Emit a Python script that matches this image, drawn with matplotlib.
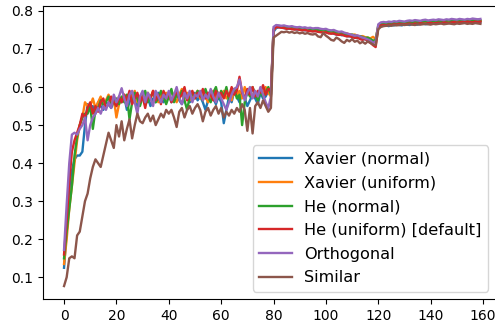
import matplotlib
matplotlib.use("Agg")
import matplotlib.pyplot as plt

labels = ["Xavier (normal)", "Xavier (uniform)", "He (normal)",
          "He (uniform) [default]", "Orthogonal", "Similar"]
colors = ["#1f77b4", "#ff7f0e", "#2ca02c", "#d62728", "#9467bd", "#8c564b"]

xavier_normal = [
    0.125, 0.22, 0.31, 0.38, 0.41, 0.42, 0.42, 0.43, 0.50, 0.555, 0.54, 0.55, 0.53, 0.56, 0.55, 0.54, 0.56, 0.555, 0.545, 0.56,
    0.55, 0.57, 0.56, 0.575, 0.54, 0.56, 0.58, 0.565, 0.55, 0.57, 0.58, 0.56, 0.575, 0.55, 0.57, 0.56, 0.585, 0.57, 0.56, 0.575,
    0.58, 0.56, 0.57, 0.59, 0.565, 0.555, 0.575, 0.58, 0.56, 0.57, 0.585, 0.565, 0.575, 0.56, 0.54, 0.565, 0.58, 0.57, 0.555, 0.575,
    0.56, 0.505, 0.54, 0.575, 0.56, 0.59, 0.575, 0.56, 0.585, 0.57, 0.55, 0.565, 0.58, 0.57, 0.555, 0.585, 0.57, 0.575, 0.59, 0.58,
    0.745, 0.755, 0.757, 0.756, 0.755, 0.754, 0.753, 0.754, 0.752, 0.751, 0.752, 0.75, 0.749, 0.75, 0.748, 0.747, 0.748, 0.746, 0.745, 0.746,
    0.744, 0.742, 0.743, 0.74, 0.738, 0.739, 0.736, 0.737, 0.734, 0.733, 0.735, 0.731, 0.729, 0.73, 0.727, 0.725, 0.726, 0.722, 0.718, 0.72,
    0.755, 0.76, 0.761, 0.762, 0.76, 0.763, 0.762, 0.764, 0.763, 0.762, 0.765, 0.764, 0.763, 0.766, 0.765, 0.764, 0.766, 0.767, 0.765, 0.766,
    0.768, 0.767, 0.766, 0.768, 0.769, 0.767, 0.768, 0.77, 0.769, 0.768, 0.77, 0.771, 0.769, 0.77, 0.771, 0.772, 0.77, 0.771, 0.772, 0.771,
]

xavier_uniform = [
    0.135, 0.20, 0.28, 0.34, 0.40, 0.46, 0.50, 0.52, 0.56, 0.55, 0.55, 0.57, 0.545, 0.56, 0.575, 0.55, 0.565, 0.58, 0.56, 0.57,
    0.52, 0.555, 0.57, 0.58, 0.56, 0.585, 0.57, 0.59, 0.56, 0.575, 0.58, 0.565, 0.585, 0.57, 0.59, 0.575, 0.56, 0.58, 0.57, 0.585,
    0.57, 0.59, 0.575, 0.56, 0.58, 0.595, 0.57, 0.585, 0.565, 0.58, 0.575, 0.59, 0.57, 0.585, 0.575, 0.56, 0.58, 0.59, 0.57, 0.585,
    0.575, 0.59, 0.57, 0.58, 0.565, 0.595, 0.58, 0.59, 0.57, 0.6, 0.58, 0.59, 0.575, 0.585, 0.57, 0.595, 0.58, 0.6, 0.585, 0.575,
    0.75, 0.758, 0.759, 0.757, 0.756, 0.756, 0.755, 0.754, 0.755, 0.753, 0.752, 0.753, 0.751, 0.75, 0.751, 0.749, 0.75, 0.748, 0.747, 0.748,
    0.746, 0.745, 0.746, 0.744, 0.742, 0.743, 0.741, 0.74, 0.741, 0.738, 0.737, 0.738, 0.735, 0.733, 0.734, 0.731, 0.73, 0.728, 0.732, 0.726,
    0.76, 0.764, 0.765, 0.764, 0.766, 0.765, 0.767, 0.766, 0.765, 0.767, 0.768, 0.766, 0.768, 0.767, 0.769, 0.768, 0.767, 0.769, 0.77, 0.768,
    0.77, 0.769, 0.771, 0.77, 0.769, 0.771, 0.772, 0.77, 0.771, 0.772, 0.771, 0.773, 0.772, 0.771, 0.773, 0.772, 0.774, 0.773, 0.772, 0.774,
]

he_normal = [
    0.15, 0.22, 0.28, 0.34, 0.42, 0.47, 0.50, 0.52, 0.53, 0.53, 0.55, 0.49, 0.54, 0.54, 0.565, 0.55, 0.56, 0.575, 0.55, 0.565,
    0.57, 0.555, 0.575, 0.56, 0.58, 0.515, 0.56, 0.585, 0.57, 0.55, 0.575, 0.59, 0.56, 0.575, 0.585, 0.56, 0.57, 0.59, 0.575, 0.555,
    0.575, 0.595, 0.56, 0.58, 0.57, 0.59, 0.565, 0.54, 0.575, 0.585, 0.57, 0.59, 0.58, 0.565, 0.595, 0.575, 0.56, 0.585, 0.6, 0.57,
    0.59, 0.575, 0.6, 0.565, 0.585, 0.595, 0.57, 0.58, 0.50, 0.56, 0.59, 0.575, 0.6, 0.58, 0.565, 0.59, 0.575, 0.585, 0.6, 0.58,
    0.752, 0.76, 0.761, 0.759, 0.76, 0.758, 0.757, 0.758, 0.756, 0.755, 0.756, 0.754, 0.753, 0.754, 0.752, 0.751, 0.752, 0.75, 0.749, 0.75,
    0.748, 0.746, 0.747, 0.745, 0.743, 0.744, 0.741, 0.74, 0.739, 0.737, 0.738, 0.735, 0.733, 0.734, 0.731, 0.729, 0.73, 0.726, 0.722, 0.724,
    0.762, 0.766, 0.767, 0.766, 0.768, 0.767, 0.768, 0.769, 0.768, 0.77, 0.769, 0.77, 0.771, 0.77, 0.772, 0.771, 0.77, 0.772, 0.773, 0.771,
    0.772, 0.773, 0.772, 0.774, 0.773, 0.772, 0.774, 0.775, 0.773, 0.774, 0.775, 0.774, 0.776, 0.775, 0.774, 0.776, 0.775, 0.776, 0.777, 0.775,
]

he_uniform = [
    0.16, 0.25, 0.35, 0.43, 0.46, 0.48, 0.50, 0.53, 0.52, 0.545, 0.56, 0.53, 0.55, 0.535, 0.56, 0.57, 0.545, 0.555, 0.575, 0.56,
    0.55, 0.575, 0.56, 0.58, 0.565, 0.59, 0.555, 0.57, 0.585, 0.56, 0.575, 0.545, 0.58, 0.57, 0.59, 0.565, 0.58, 0.555, 0.59, 0.57,
    0.585, 0.56, 0.575, 0.59, 0.57, 0.58, 0.6, 0.565, 0.58, 0.59, 0.57, 0.585, 0.575, 0.595, 0.57, 0.585, 0.58, 0.565, 0.59, 0.575,
    0.585, 0.57, 0.59, 0.575, 0.6, 0.58, 0.59, 0.627, 0.585, 0.57, 0.595, 0.58, 0.6, 0.575, 0.59, 0.585, 0.605, 0.58, 0.595, 0.59,
    0.75, 0.758, 0.757, 0.756, 0.755, 0.753, 0.754, 0.752, 0.751, 0.752, 0.75, 0.749, 0.75, 0.748, 0.747, 0.746, 0.747, 0.745, 0.744, 0.743,
    0.744, 0.741, 0.74, 0.741, 0.738, 0.737, 0.738, 0.735, 0.733, 0.734, 0.731, 0.729, 0.73, 0.726, 0.724, 0.727, 0.72, 0.716, 0.71, 0.705,
    0.758, 0.762, 0.763, 0.762, 0.764, 0.763, 0.765, 0.764, 0.766, 0.765, 0.764, 0.766, 0.767, 0.765, 0.767, 0.766, 0.768, 0.767, 0.766, 0.768,
    0.769, 0.767, 0.768, 0.769, 0.768, 0.77, 0.769, 0.768, 0.77, 0.771, 0.769, 0.77, 0.771, 0.77, 0.772, 0.771, 0.77, 0.772, 0.771, 0.772,
]

orthogonal = [
    0.172, 0.29, 0.40, 0.475, 0.48, 0.475, 0.49, 0.50, 0.52, 0.46, 0.50, 0.52, 0.53, 0.545, 0.53, 0.55, 0.54, 0.56, 0.545, 0.58,
    0.56, 0.575, 0.597, 0.57, 0.55, 0.58, 0.59, 0.56, 0.53, 0.575, 0.59, 0.56, 0.585, 0.57, 0.55, 0.59, 0.575, 0.56, 0.58, 0.57,
    0.59, 0.565, 0.58, 0.6, 0.57, 0.555, 0.585, 0.57, 0.59, 0.56, 0.58, 0.575, 0.59, 0.565, 0.58, 0.57, 0.595, 0.575, 0.56, 0.585,
    0.57, 0.555, 0.54, 0.56, 0.58, 0.595, 0.6, 0.62, 0.59, 0.565, 0.585, 0.6, 0.57, 0.59, 0.575, 0.6, 0.58, 0.56, 0.545, 0.575,
    0.758, 0.763, 0.762, 0.761, 0.762, 0.76, 0.759, 0.76, 0.758, 0.757, 0.758, 0.756, 0.757, 0.755, 0.756, 0.754, 0.755, 0.755, 0.753, 0.752,
    0.753, 0.75, 0.749, 0.75, 0.747, 0.745, 0.746, 0.743, 0.741, 0.739, 0.737, 0.735, 0.736, 0.733, 0.73, 0.728, 0.725, 0.722, 0.716, 0.72,
    0.765, 0.77, 0.771, 0.77, 0.772, 0.771, 0.773, 0.772, 0.774, 0.773, 0.772, 0.774, 0.775, 0.774, 0.776, 0.775, 0.774, 0.776, 0.777, 0.775,
    0.776, 0.777, 0.776, 0.778, 0.777, 0.776, 0.778, 0.777, 0.779, 0.778, 0.777, 0.779, 0.778, 0.777, 0.779, 0.778, 0.78, 0.779, 0.778, 0.779,
]

similar = [
    0.077, 0.10, 0.15, 0.155, 0.15, 0.21, 0.22, 0.26, 0.30, 0.32, 0.36, 0.39, 0.41, 0.40, 0.39, 0.42, 0.45, 0.48, 0.46, 0.44,
    0.50, 0.47, 0.51, 0.46, 0.49, 0.515, 0.465, 0.50, 0.53, 0.51, 0.505, 0.52, 0.53, 0.51, 0.525, 0.50, 0.515, 0.53, 0.52, 0.54,
    0.53, 0.54, 0.52, 0.495, 0.535, 0.545, 0.52, 0.54, 0.55, 0.53, 0.545, 0.555, 0.54, 0.51, 0.535, 0.545, 0.525, 0.54, 0.55, 0.53,
    0.545, 0.52, 0.535, 0.525, 0.54, 0.53, 0.545, 0.535, 0.555, 0.54, 0.485, 0.545, 0.478, 0.55, 0.56, 0.545, 0.565, 0.55, 0.535, 0.545,
    0.73, 0.735, 0.74, 0.745, 0.744, 0.746, 0.743, 0.745, 0.742, 0.744, 0.741, 0.743, 0.74, 0.742, 0.739, 0.738, 0.74, 0.733, 0.731, 0.742,
    0.735, 0.73, 0.724, 0.722, 0.73, 0.726, 0.72, 0.716, 0.724, 0.72, 0.726, 0.719, 0.722, 0.715, 0.719, 0.714, 0.72, 0.716, 0.712, 0.71,
    0.752, 0.758, 0.76, 0.761, 0.762, 0.761, 0.763, 0.762, 0.763, 0.764, 0.763, 0.764, 0.765, 0.764, 0.763, 0.765, 0.764, 0.765, 0.766, 0.765,
    0.764, 0.766, 0.765, 0.766, 0.767, 0.765, 0.766, 0.767, 0.766, 0.765, 0.767, 0.766, 0.767, 0.768, 0.766, 0.767, 0.766, 0.768, 0.767, 0.766,
]

series = [xavier_normal, xavier_uniform, he_normal, he_uniform, orthogonal, similar]

fig = plt.figure(figsize=(4.95, 3.24), dpi=100)
ax = fig.add_axes([0.0873, 0.0772, 0.9253, 0.9043])

for vals, lab, col in zip(series, labels, colors):
    ax.plot(range(len(vals)), vals, color=col, label=lab, linewidth=1.7)

ax.set_xlim(-7.95, 166.95)
ax.set_ylim(0.043, 0.813)
ax.set_xticks([0, 20, 40, 60, 80, 100, 120, 140, 160])
ax.set_yticks([0.1, 0.2, 0.3, 0.4, 0.5, 0.6, 0.7, 0.8])

ax.legend(loc="lower right", bbox_to_anchor=(488.3 / 495, 32.3 / 324),
          bbox_transform=fig.transFigure, borderaxespad=0, fontsize=11.6,
          labelspacing=0.54)

fig.savefig("out.png", dpi=100)
